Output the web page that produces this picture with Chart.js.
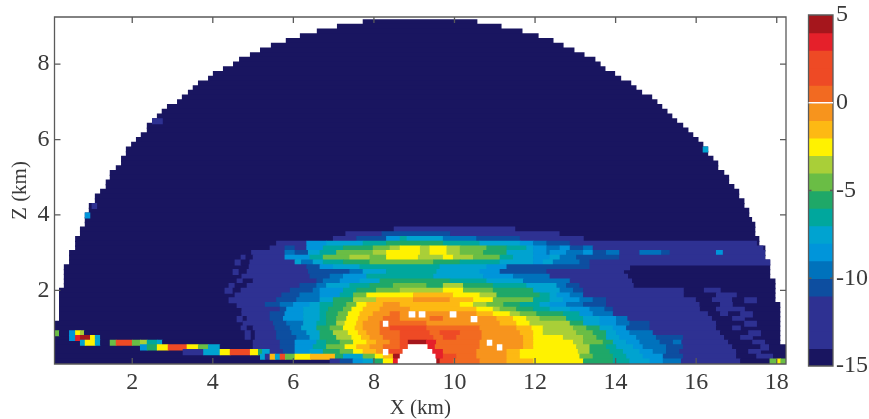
<!DOCTYPE html>
<html>
<head>
<meta charset="utf-8">
<script src="https://cdn.jsdelivr.net/npm/chart.js@4"></script>
<style>
    body { margin: 0; background: #fff; }
    canvas { position: absolute; top: 0; filter: blur(0.55px); }
    #mapChart { left: 0; }
    #barChart { left: 800px; }
</style>
</head>
<body>
<canvas id="mapChart" width="800" height="419"></canvas>
<canvas id="barChart" width="69" height="419"></canvas>
<script>
// one colour per 1-unit level, from -15 up to 4
const levelColors = [
    '#191560', '#2e3192', '#2e3192', '#2e3192', '#0d4ea0', '#0072bc', '#0095da', '#00a3d0',
    '#00a79d', '#1fa868', '#6abd45', '#a9cf38', '#fff200', '#fdb913', '#f7941d', '#f26a21',
    '#ee4a25', '#ee4a25', '#e5202a', '#a5161c'
];
const colorbarTicks = [5, 0, -5, -10, -15];

// outline of the measured region, one value per row, top row first (km)
const domeLeft = [
    7.73, 7.09, 6.59, 6.17, 5.82, 5.45, 5.18, 4.93, 4.66, 4.51, 4.26, 4.01, 3.89, 3.64, 3.51, 3.39,
    3.24, 3.12, 2.87, 2.74, 2.62, 2.50, 2.37, 2.37, 2.22, 2.10, 1.98, 1.85, 1.85, 1.73, 1.73, 1.60,
    1.45, 1.45, 1.35, 1.35, 1.21, 1.08, 1.08, 0.93, 0.93, 0.83, 0.83, 0.83, 0.71, 0.71, 0.59, 0.59,
    0.59, 0.44, 0.44, 0.44, 0.31, 0.31, 0.31, 0.31, 0.31, 0.19, 0.19, 0.19, 0.19, 0.19, 0.19, 0.19,
    0.09, 0.07, 0.07, 0.07, 0.07, 0.07, 0.07, 0.07, 0.07
];
const domeRight = [
    10.56, 11.16, 11.68, 12.08, 12.45, 12.70, 12.97, 13.22, 13.49, 13.62, 13.74, 13.98, 14.13, 14.38, 14.51, 14.65,
    14.90, 15.03, 15.15, 15.28, 15.40, 15.52, 15.67, 15.80, 15.92, 16.05, 16.17, 16.29, 16.29, 16.42, 16.54, 16.54,
    16.69, 16.81, 16.81, 16.94, 17.06, 17.06, 17.19, 17.19, 17.31, 17.31, 17.38, 17.46, 17.46, 17.46, 17.56, 17.56,
    17.71, 17.71, 17.71, 17.83, 17.83, 17.83, 17.83, 17.96, 17.96, 17.96, 17.96, 17.96, 18.08, 18.08, 18.08, 18.08,
    18.08, 18.08, 18.08, 18.08, 18.08, 18.23, 18.23, 18.23, 18.23
];
const backgroundLevel = -15;

// lower rows, top one first. Each row: x, level, x, level, ... , end x
const firstBandRow = 44;
const bandRows = [
    [8.5, -14, 11.5],
    [7.3, -14, 8.2, -11, 9.9, -14, 12.6],
    [6.99, -14, 7.57, -11, 8.31, -9, 8.65, -7, 8.82, -8, 9.72, -10, 10.55, -11, 11.63, -14, 13.2],
    [5.58, -14, 6.33, -9, 6.82, -8, 7.73, -7, 8.31, -6, 9.72, -7, 10.63, -8, 11.63, -9, 11.96, -10, 12.29, -11, 12.87, -14, 17.5],
    [5.42, -14, 5.79, -11, 6.04, -14, 6.33, -9, 6.74, -7, 7.24, -6, 7.98, -5, 8.4, -4, 8.65, -3, 9.15, -4, 9.39, -3, 9.81, -4, 10.14, -5, 10.8, -6, 11.3, -7, 11.79, -8, 11.96, -9, 12.29, -10, 12.62, -9, 12.87, -11, 13.2, -10, 13.44, -14, 17.66],
    [4.96, -14, 5.79, -10, 6.04, -11, 6.37, -8, 6.66, -7, 7.07, -5, 7.98, -4, 8.31, -3, 9.15, -4, 9.39, -3, 9.81, -4, 10.14, -5, 10.72, -6, 11.3, -8, 11.96, -9, 12.29, -10, 12.37, -9, 12.78, -10, 13.2, -9, 13.44, -11, 13.77, -10, 14.1, -14, 14.6, -10, 15.14, -11, 15.35, -14, 16.5, -9, 16.67, -14, 17.7],
    [4.7, -14, 4.82, -15, 5.0, -14, 5.79, -9, 6.41, -7, 6.74, -5, 7.4, -4, 7.9, -5, 8.31, -3, 9.1, -4, 9.72, -3, 9.97, -4, 10.47, -5, 11.13, -7, 11.46, -8, 11.96, -9, 12.37, -8, 12.62, -10, 13.03, -11, 14.1, -14, 17.7],
    [4.55, -14, 4.7, -15, 4.92, -14, 6.04, -8, 6.2, -10, 6.49, -8, 6.74, -7, 7.24, -6, 7.9, -5, 9.48, -6, 10.14, -7, 11.13, -8, 11.96, -9, 12.2, -8, 12.45, -10, 13.11, -11, 13.36, -14, 17.83],
    [4.9, -14, 6.33, -11, 6.66, -9, 6.99, -8, 7.65, -7, 9.64, -8, 10.8, -9, 11.3, -11, 13.36, -14, 14.35],
    [4.5, -14, 4.65, -15, 4.85, -14, 6.37, -11, 7.4, -10, 7.73, -8, 8.31, -7, 9.56, -8, 10.63, -9, 11.13, -11, 12.29, -14, 14.2],
    [4.72, -14, 6.41, -11, 6.91, -10, 7.24, -9, 7.82, -7, 9.48, -8, 10.72, -9, 11.46, -10, 12.37, -14, 14.3],
    [4.6, -14, 4.75, -15, 5.0, -14, 6.58, -11, 6.74, -10, 7.16, -9, 7.65, -8, 8.15, -6, 9.89, -7, 10.8, -8, 11.71, -10, 12.87, -14, 14.4],
    [4.4, -14, 4.55, -15, 4.85, -14, 6.16, -11, 6.58, -10, 6.82, -8, 7.4, -7, 7.9, -6, 8.48, -5, 9.31, -6, 9.72, -4, 10.22, -6, 10.96, -7, 11.79, -8, 12.54, -10, 12.78, -11, 13.11, -14, 14.44],
    [4.3, -14, 4.5, -15, 4.7, -14, 5.92, -11, 6.49, -10, 6.66, -9, 7.24, -7, 7.57, -6, 8.06, -5, 8.65, -4, 9.72, -3, 10.22, -5, 10.96, -6, 11.96, -8, 12.62, -10, 12.95, -11, 13.2, -14, 15.7, -15, 16.2, -14, 16.6],
    [4.55, -14, 5.71, -11, 6.16, -10, 6.66, -9, 7.16, -7, 7.49, -5, 7.82, -3, 8.98, -2, 9.97, -3, 10.63, -4, 11.05, -6, 12.12, -7, 12.37, -8, 12.54, -9, 12.87, -10, 13.2, -14, 15.7, -15, 16.5, -14, 17.0],
    [4.4, -14, 5.58, -11, 6.08, -10, 6.66, -8, 6.99, -6, 7.49, -4, 8.06, -2, 8.98, -1, 9.89, -2, 10.47, -3, 10.96, -5, 11.96, -7, 12.37, -8, 12.7, -9, 13.11, -10, 13.44, -11, 13.77, -14, 16.0, -15, 16.4, -14, 16.9, -15, 17.2, -14, 17.5],
    [4.6, -14, 5.3, -11, 5.67, -10, 6.0, -9, 6.41, -8, 6.66, -7, 6.99, -6, 7.32, -5, 7.57, -3, 7.82, -2, 8.23, -1, 8.65, -2, 10.14, -3, 10.47, -4, 10.8, -5, 11.22, -6, 11.63, -7, 12.12, -8, 12.37, -9, 12.78, -10, 13.2, -11, 13.77, -14, 16.09, -15, 16.6, -14, 16.9],
    [4.72, -14, 5.67, -11, 5.83, -9, 6.25, -8, 6.66, -7, 6.87, -6, 7.24, -5, 7.45, -3, 7.73, -2, 8.15, -1, 8.9, -2, 10.55, -3, 10.96, -4, 11.13, -5, 11.54, -6, 11.96, -7, 12.37, -8, 12.87, -9, 13.36, -10, 13.73, -11, 13.94, -14, 16.1, -15, 16.5, -14, 17.2],
    [4.72, -14, 5.42, -11, 5.79, -9, 6.25, -8, 6.66, -7, 6.82, -6, 7.11, -5, 7.36, -3, 7.65, -2, 7.98, -1, 8.4, 0, 8.65, -1, 10.55, -2, 10.96, -3, 11.38, -4, 11.63, -5, 12.04, -6, 12.7, -7, 13.11, -9, 13.44, -10, 13.94, -14, 16.3, -15, 16.6, -14, 16.8, -15, 17.1, -14, 17.4],
    [4.6, -14, 4.75, -15, 4.85, -14, 5.42, -11, 5.75, -9, 6.25, -8, 6.66, -7, 6.82, -6, 7.07, -5, 7.32, -3, 7.61, -2, 7.86, -1, 8.23, 0, 8.65, -1, 9.39, 0, 9.72, -1, 11.05, -2, 11.46, -3, 11.79, -4, 12.12, -5, 12.78, -7, 13.2, -8, 13.61, -9, 14.02, -10, 14.3, -14, 16.4, -15, 16.9, -14, 17.2],
    [4.75, -14, 5.5, -11, 5.83, -10, 6.25, -8, 6.58, -7, 6.82, -6, 7.07, -4, 7.28, -3, 7.57, -2, 7.73, -1, 8.15, 0, 9.31, -1, 11.13, -2, 11.54, -3, 11.87, -4, 12.87, -6, 13.2, -8, 13.61, -9, 14.02, -10, 14.35, -11, 14.85, -14, 16.5, -15, 17.2, -14, 17.5],
    [4.7, -14, 4.85, -15, 5.0, -14, 5.54, -11, 5.92, -10, 6.2, -8, 6.58, -6, 6.91, -5, 7.24, -3, 7.53, -2, 7.73, -1, 8.15, 0, 8.4, 1, 9.31, 0, 10.63, -1, 11.54, -2, 11.92, -3, 12.2, -4, 12.95, -5, 13.28, -6, 13.61, -8, 13.94, -9, 14.27, -11, 14.85, -14, 16.5, -15, 16.9, -14, 17.1],
    [0.09, -5, 0.19, -15, 0.44, -9, 0.59, -3, 0.71, -4, 0.81, -15, 4.8, -14, 4.95, -15, 5.05, -14, 5.58, -11, 5.96, -10, 6.33, -8, 6.66, -6, 6.99, -4, 7.36, -3, 7.61, -2, 7.82, -1, 8.15, 0, 8.65, 1, 9.39, 0, 9.64, 1, 10.14, 0, 10.68, -1, 11.63, -2, 11.96, -3, 12.2, -4, 13.03, -5, 13.44, -6, 13.77, -8, 14.02, -9, 14.35, -10, 14.93, -14, 16.6, -15, 17.3, -14, 17.6],
    [0.44, -9, 0.59, 3, 0.71, 4, 0.96, -3, 1.08, -8, 1.21, -15, 4.8, -14, 4.95, -15, 5.05, -14, 5.58, -11, 6.08, -10, 6.41, -8, 6.66, -6, 7.07, -4, 7.45, -3, 7.69, -2, 7.9, -1, 8.23, 0, 8.65, 1, 9.48, 0, 9.72, 1, 10.05, 0, 10.68, -1, 11.71, -2, 11.96, -3, 12.7, -4, 13.2, -5, 13.53, -6, 13.77, -8, 14.1, -9, 14.52, -10, 15.01, -11, 15.68, -14, 16.7, -15, 17.1, -14, 17.4],
    [0.71, -8, 0.83, -3, 1.08, -8, 1.21, -15, 1.45, -5, 1.6, 1, 2.0, -5, 2.2, -4, 2.37, -7, 2.62, -8, 2.75, -15, 5.0, -14, 5.67, -11, 6.04, -9, 6.58, -7, 6.82, -6, 7.16, -5, 7.49, -3, 7.82, -2, 8.06, -1, 8.4, 0, 8.65, 1, 8.85, 4, 9.3, 3, 9.55, 0, 10.63, -1, 11.71, -2, 11.96, -3, 12.95, -4, 13.2, -5, 13.69, -6, 13.94, -8, 14.27, -9, 14.6, -10, 15.1, -11, 15.43, -10, 15.64, -14, 16.8, -15, 17.4, -14, 17.7],
    [2.2, -9, 2.37, -6, 2.62, -3, 2.89, 1, 3.36, -3, 3.64, -5, 3.89, -8, 4.18, -15, 5.0, -14, 5.67, -11, 6.04, -9, 6.49, -7, 6.82, -5, 7.28, -3, 7.57, -2, 7.9, -1, 8.23, 0, 8.65, 1, 9.35, 3, 9.52, 0, 10.63, -1, 11.71, -2, 11.96, -3, 13.03, -4, 13.36, -6, 13.77, -7, 14.02, -8, 14.44, -9, 14.68, -10, 15.26, -11, 15.68, -14, 16.9, -15, 17.6, -14, 17.8],
    [3.26, -14, 3.77, -8, 4.18, -3, 4.43, 1, 4.93, -3, 5.13, -6, 5.23, -8, 5.42, -14, 5.75, -11, 6.04, -9, 6.41, -8, 6.74, -6, 7.16, -5, 7.49, -3, 7.73, -2, 8.06, -1, 8.23, 1, 8.73, 3, 9.72, 0, 10.55, -1, 11.3, -2, 11.63, -3, 13.07, -4, 13.36, -6, 13.86, -7, 14.19, -8, 14.6, -9, 14.93, -10, 15.26, -11, 15.59, -14, 17.0, -15, 17.3, -14, 17.6],
    [5.18, -8, 5.3, -14, 5.42, -2, 5.55, -8, 5.67, 1, 5.8, -5, 6.04, -3, 6.42, -2, 7.04, -6, 7.24, -8, 7.73, -5, 8.03, -3, 8.23, -2, 8.48, 4, 9.4, 3, 9.72, 1, 10.05, 0, 10.55, -1, 11.3, -2, 11.63, -3, 13.11, -5, 13.44, -6, 13.94, -7, 14.27, -8, 14.68, -9, 15.18, -11, 15.68, -14, 17.0, -15, 17.5, -14, 17.9],
    [6.91, -14, 7.16, -11, 7.48, -9, 7.73, -8, 7.98, -6, 8.23, -3, 8.48, 3, 9.5, 4, 9.64, 1, 9.97, 0, 10.63, -1, 11.3, -2, 11.96, -3, 13.2, -6, 13.94, -7, 14.35, -8, 14.85, -9, 15.18, -10, 15.63, -14, 17.1, -15, 17.83, -5, 18.0, -3, 18.1, -5, 18.23]
];

// single cells near the rim
const spotRow = [27, 21, 39, 41];
const spotFrom = [16.17, 2.5, 1.0, 0.83];
const spotTo = [16.29, 2.75, 1.12, 0.95];
const spotLevel = [-8, -14, -14, -9];

// cells with no data, and the white hole at the source
const holeRow = [62, 62, 62, 63, 64, 70, 68, 69, 69, 70, 71, 72];
const holeFrom = [8.87, 9.12, 9.89, 10.41, 8.23, 8.23, 10.81, 11.06, 8.85, 8.72, 8.65, 8.6];
const holeTo = [9.02, 9.27, 10.04, 10.56, 8.35, 8.35, 10.93, 11.18, 9.32, 9.44, 9.52, 9.54];

const rowHeight = 0.125;
const bottomRowZ = 0.1125;
const lastRow = domeLeft.length - 1;

function rowZ(row) {
    return bottomRowZ + (lastRow - row) * rowHeight;
}

function levelColor(ctx) {
    const level = ctx.raw.level;
    return level === null ? '#ffffff' : levelColors[level + 15];
}

function buildMapData() {
    const cells = [];
    domeLeft.forEach((left, row) => {
        cells.push({ x: [left, domeRight[row]], y: rowZ(row), level: backgroundLevel });
    });
    bandRows.forEach((breaks, i) => {
        for (let k = 0; k + 2 < breaks.length; k += 2) {
            cells.push({ x: [breaks[k], breaks[k + 2]], y: rowZ(firstBandRow + i), level: breaks[k + 1] });
        }
    });
    spotRow.forEach((row, i) => {
        cells.push({ x: [spotFrom[i], spotTo[i]], y: rowZ(row), level: spotLevel[i] });
    });
    holeRow.forEach((row, i) => {
        cells.push({ x: [holeFrom[i], holeTo[i]], y: rowZ(row), level: null });
    });
    return cells;
}

// MATLAB style frame: ticks point inward on both sides
function frameTicks(tickLength, lineColor) {
    return {
        id: 'frameTicks',
        afterDatasetsDraw(chart) {
            const { ctx, chartArea: a, scales } = chart;
            ctx.save();
            ctx.strokeStyle = lineColor;
            ctx.lineWidth = 1.3;
            ctx.beginPath();
            ctx.rect(a.left, a.top, a.right - a.left, a.bottom - a.top);
            Object.values(scales).forEach(scale => {
                if (!scale.options.display) return;
                scale.ticks.forEach(tick => {
                    const p = scale.getPixelForValue(tick.value);
                    if (scale.isHorizontal()) {
                        ctx.moveTo(p, a.bottom);
                        ctx.lineTo(p, a.bottom - tickLength);
                        ctx.moveTo(p, a.top);
                        ctx.lineTo(p, a.top + tickLength);
                    } else {
                        ctx.moveTo(a.left, p);
                        ctx.lineTo(a.left + tickLength, p);
                        ctx.moveTo(a.right, p);
                        ctx.lineTo(a.right - tickLength, p);
                    }
                });
            });
            ctx.stroke();
            ctx.restore();
        }
    };
}

const textColor = '#3a3a3a';
const tickFont = { family: '"Liberation Serif"', size: 24, lineHeight: 1 };
const titleFont = { family: '"Liberation Serif"', size: 21, lineHeight: 1 };

new Chart(document.getElementById('mapChart').getContext('2d'), {
    type: 'bar',
    data: {
        datasets: [{
            data: buildMapData(),
            backgroundColor: levelColor,
            barThickness: 5.4,
            borderWidth: 0
        }]
    },
    options: {
        indexAxis: 'y',
        responsive: false,
        animation: false,
        layout: { padding: { top: 14, right: 14 } },
        plugins: { legend: { display: false }, tooltip: { enabled: false } },
        scales: {
            x: {
                type: 'linear',
                min: 0.07,
                max: 18.23,
                afterFit: scale => { scale.height = 55; },
                grid: { display: false, drawTicks: false },
                border: { display: false },
                ticks: { stepSize: 2, includeBounds: false, maxRotation: 0, padding: 7, color: textColor, font: tickFont },
                title: { display: true, text: 'X (km)', color: textColor, font: titleFont, padding: { top: 0, bottom: 0 } }
            },
            y: {
                type: 'linear',
                min: 0.047,
                max: 9.25,
                offset: false,
                afterFit: scale => { scale.width = 54.5; },
                grid: { display: false, offset: false, drawTicks: false },
                border: { display: false },
                ticks: { stepSize: 2, includeBounds: false, padding: 5, color: textColor, font: tickFont },
                title: { display: true, text: 'Z (km)', color: textColor, font: titleFont, padding: { top: 10, bottom: 0 } }
            }
        }
    },
    plugins: [frameTicks(6, '#5a5a5a')]
});

// colour scale, one bar per level
const barLevels = levelColors.map((c, i) => i - 15);

new Chart(document.getElementById('barChart').getContext('2d'), {
    type: 'bar',
    data: {
        datasets: [{
            data: barLevels.map(level => ({ x: [0, 1], y: level + 0.5, level: level })),
            backgroundColor: levelColor,
            barThickness: 18.2,
            borderWidth: 0
        }]
    },
    options: {
        indexAxis: 'y',
        responsive: false,
        animation: false,
        layout: { padding: { top: 14, bottom: 53, left: 8.5 } },
        plugins: { legend: { display: false }, tooltip: { enabled: false } },
        scales: {
            x: { type: 'linear', min: 0, max: 1, display: false },
            y: {
                type: 'linear',
                position: 'right',
                min: -15,
                max: 5,
                offset: false,
                afterFit: scale => { scale.width = 36; },
                afterBuildTicks: scale => { scale.ticks = colorbarTicks.map(v => ({ value: v })); },
                grid: {
                    offset: false,
                    drawTicks: false,
                    z: 1,
                    lineWidth: 1.5,
                    color: ctx => (ctx.tick && ctx.tick.value === 0 ? '#ffffff' : 'rgba(0,0,0,0)')
                },
                border: { display: false },
                ticks: { padding: 3, color: textColor, font: tickFont }
            }
        }
    },
    plugins: [frameTicks(3, '#5a5a5a')]
});
</script>
</body>
</html>
